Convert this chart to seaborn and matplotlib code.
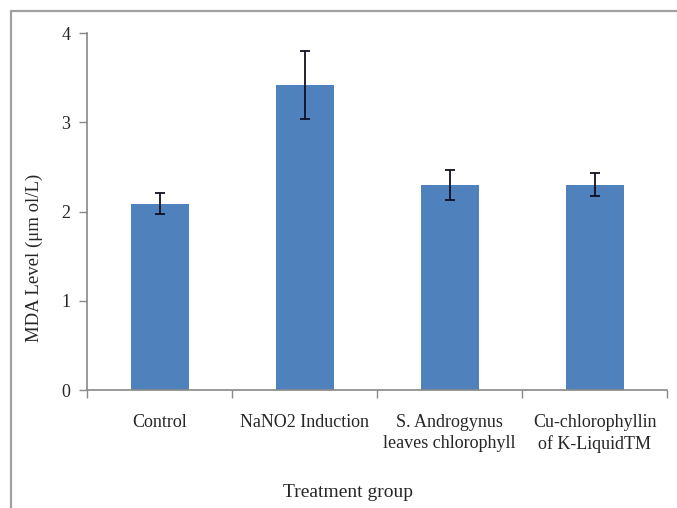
import matplotlib
matplotlib.use("Agg")
import matplotlib.pyplot as plt
from matplotlib.lines import Line2D
import seaborn as sns
import pandas as pd

groups = ["Control", "NaNO2 Induction", "S. Androgynus\nleaves chlorophyll",
          "Cu-chlorophyllin\nof K-LiquidTM"]
mda = [2.09, 3.42, 2.30, 2.30]
err = [0.12, 0.38, 0.17, 0.13]

df = pd.DataFrame({"group": groups, "mda": mda, "err": err})

sns.set_theme(style="white")
plt.rcParams["font.family"] = ["Liberation Serif", "DejaVu Serif"]

fig = plt.figure(figsize=(6.77, 5.08), dpi=100)
ax = fig.add_axes([0.1285, 0.232, 0.857, 0.703])

sns.barplot(data=df, x="group", y="mda", color="#4F81BD", saturation=1,
            width=0.4, errorbar=None, linewidth=0, ax=ax)
ax.errorbar(range(len(groups)), df["mda"], yerr=df["err"], fmt="none",
            ecolor="#111122", elinewidth=1.3, capsize=3.6, capthick=1.3)

ax.set_ylim(0, 4)
ax.set_xlim(-0.5, len(groups) - 0.5)
ax.set_yticks([0, 1, 2, 3, 4])
ax.set_yticklabels(["0", "1", "2", "3", "4"], fontsize=13)

# category labels sit between boundary ticks, like Excel
ax.set_xticks([i - 0.5 for i in range(len(groups) + 1)])
ax.set_xticklabels([""] * (len(groups) + 1))
ax.set_xticks(range(len(groups)), minor=True)
ax.set_xticklabels(groups, minor=True, fontsize=13, linespacing=1.35)
ax.tick_params(axis="x", which="minor", length=0, pad=17)
ax.tick_params(axis="x", which="major", length=6, width=1, color="#888888",
               direction="out", bottom=True)
ax.tick_params(axis="y", length=6, width=1, color="#888888", direction="out",
               left=True, pad=6)

for s in ["top", "right"]:
    ax.spines[s].set_visible(False)
for s in ["left", "bottom"]:
    ax.spines[s].set_color("#888888")
    ax.spines[s].set_linewidth(1.2)

ax.set_xlabel("Treatment group", fontsize=14)
ax.xaxis.set_label_coords(0.45, -0.262)
ax.set_ylabel("MDA Level (\u03bcm ol/L)", fontsize=13.5)
ax.yaxis.set_label_coords(-0.075, 0.37)

# outer frame of the original figure box
fig.add_artist(Line2D([11 / 677, 11 / 677], [0, 1 - 11 / 508],
                      transform=fig.transFigure, color="#a0a0a0", lw=1.6))
fig.add_artist(Line2D([11 / 677, 1], [1 - 11 / 508, 1 - 11 / 508],
                      transform=fig.transFigure, color="#a0a0a0", lw=1.6))

fig.savefig("out.png", dpi=100)
